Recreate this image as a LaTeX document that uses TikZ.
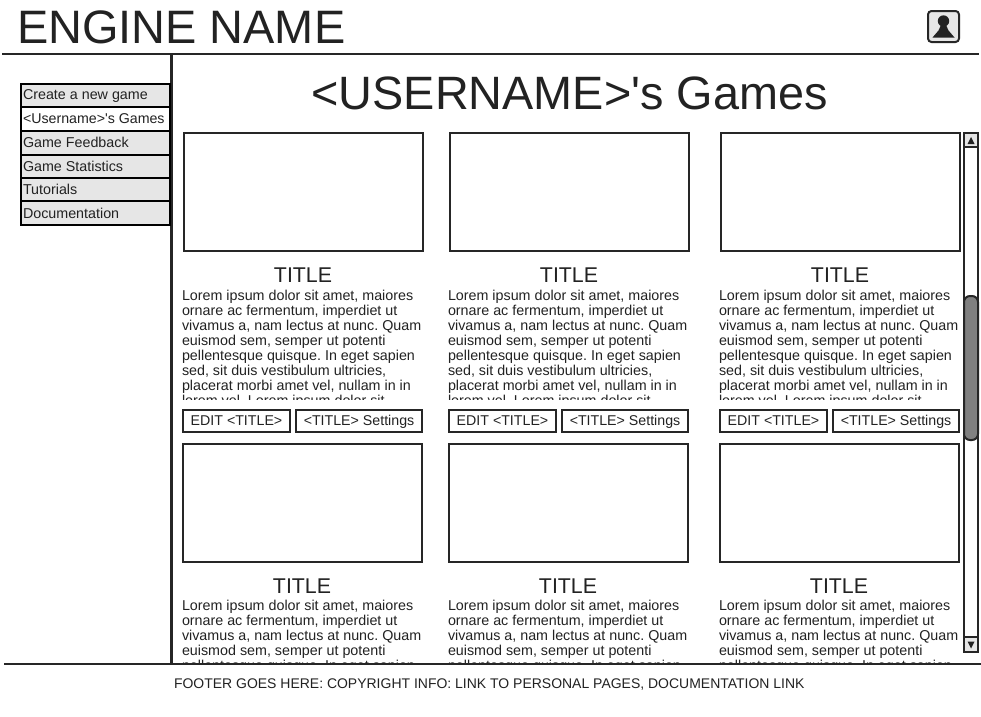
\documentclass[tikz,border=0pt]{standalone}
\usepackage{fontspec}
\setmainfont{Liberation Sans}[Ligatures=TeXOff]
\definecolor{ink}{HTML}{222222}
\definecolor{edge}{HTML}{262626}
\definecolor{panel}{HTML}{E6E6E6}
\definecolor{thumb}{HTML}{808080}
\tikzset{
  x=1pt,y=-1pt,
  txt/.style={inner sep=0pt,outer sep=0pt,anchor=base west,text=ink,font=\fontsize{#1}{#1}\selectfont\frenchspacing},
  ctxt/.style={inner sep=0pt,outer sep=0pt,anchor=base,text=ink,font=\fontsize{#1}{#1}\selectfont\frenchspacing},
  boxln/.style={draw=edge,line width=2pt,fill=white},
  rule/.style={draw=edge,line width=2pt},
  menubox/.style={draw=black,line width=2.4pt,fill=#1},
}
% \card{name}{box x}{box y}{text x}{clip bottom}{text baseline offset}
\newcommand{\card}[6]{%
  \draw[boxln] (#2,#3) rectangle (#2+239,#3+118);
  \node[ctxt=21.33] (#1t) at (#2+119.5,#3+149) {TITLE};
  \begin{scope}
    \clip (#4-2,#3+150) rectangle (#4+250,#5);
    \foreach \n/\s [count=\i from 0] in {a/{Lorem ipsum dolor sit amet, maiores},b/{ornare ac fermentum, imperdiet ut},c/{vivamus a, nam lectus at nunc. Quam},d/{euismod sem, semper ut potenti},e/{pellentesque quisque. In eget sapien},f/{sed, sit duis vestibulum ultricies,},g/{placerat morbi amet vel, nullam in in},h/{lorem vel. Lorem ipsum dolor sit}}
      \node[txt=14.3] (#1\n) at (#4,#3+#6+15*\i) {\s};
  \end{scope}}
\newcommand{\btns}[3]{%
  \draw[boxln] (#2,#3) rectangle (#2+107,#3+22);
  \node[ctxt=14.2] (#1e) at (#2+53.5,#3+15) {EDIT <TITLE>};
  \draw[boxln] (#2+113,#3) rectangle (#2+239,#3+22);
  \node[ctxt=14.2] (#1s) at (#2+176,#3+15) {<TITLE> Settings};}
\begin{document}
\begin{tikzpicture}
\useasboundingbox[fill=white] (0,0) rectangle (981,716);
\node[txt=46.9] (engine) at (17,43) {ENGINE NAME};
\node[ctxt=46.8] (games) at (569.5,109.5) {<USERNAME>'s Games};
% user icon
\draw[draw=edge,line width=2pt,fill=panel,rounded corners=3.5pt] (928,11) rectangle (959,42);
\fill[ink] (943.5,21) circle (5.7);
\fill[ink] (932.5,37.5) -- (938.5,30.5) -- (941,25) -- (946,25) -- (948.5,30.5) -- (954.5,37.5) -- cycle;
% frame
\draw[rule] (2,54) -- (979,54);
\draw[draw=edge,line width=3pt] (171,54) -- (171,663);
% menu
\foreach \ya/\yb/\col in {84/107/panel,107/131/white,131/155/panel,155/178/panel,178/201/panel,201/225/panel}
  \draw[menubox=\col] (21,\ya) rectangle (170,\yb);
\node[txt=14.3] (m1) at (23,99) {Create a new game};
\node[txt=14.2] (m2) at (23,123) {<Username>'s Games};
\node[txt=14.3] (m3) at (23,147) {Game Feedback};
\node[txt=14.3] (m4) at (23,171) {Game Statistics};
\node[txt=14.3] (m5) at (23,194) {Tutorials};
\node[txt=14.3] (m6) at (23,218) {Documentation};
% cards
\card{ca}{183.5}{133}{182}{399}{167}
\card{cb}{449.5}{133}{448}{399}{167}
\card{cc}{720.5}{133}{719}{399}{167}
\btns{ba}{183}{410}
\btns{bb}{449}{410}
\btns{bc}{720}{410}
\card{cd}{182.5}{444}{182}{663}{166}
\card{ce}{448.5}{444}{448}{663}{166}
\card{cf}{719.5}{444}{719}{663}{166}
% scrollbar
\draw[rule,fill=white] (964,133) rectangle (978,652);
\draw[rule,fill=panel] (964,133) rectangle (978,147);
\draw[rule,fill=panel] (964,637) rectangle (978,652);
\fill[ink] (971,137) -- (974.5,144) -- (967.5,144) -- cycle;
\fill[ink] (971,648.5) -- (974.5,641.5) -- (967.5,641.5) -- cycle;
\draw[rule,fill=thumb,rounded corners=6pt] (964,296) rectangle (978,440);
\draw[rule] (4,664) -- (981,664);
\node[txt=13.98] (foot) at (174,688) {FOOTER GOES HERE: COPYRIGHT INFO: LINK TO PERSONAL PAGES, DOCUMENTATION LINK};
\end{tikzpicture}
\end{document}
